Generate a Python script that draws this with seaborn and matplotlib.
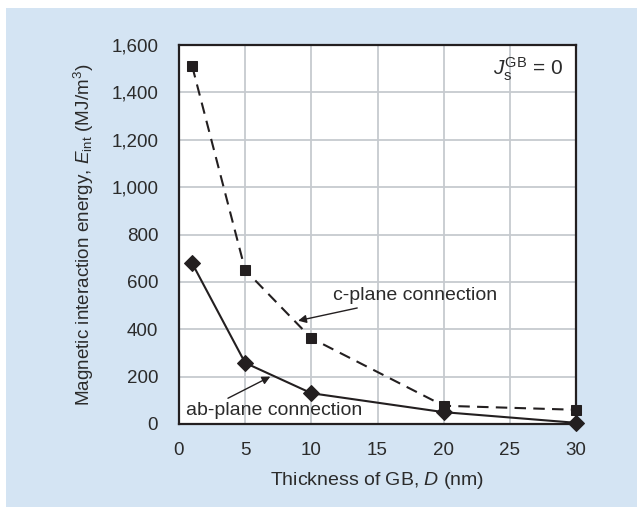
import matplotlib
matplotlib.use("Agg")
import matplotlib.pyplot as plt
import seaborn as sns
import pandas as pd
from matplotlib.ticker import FuncFormatter
from matplotlib.patches import Rectangle

thickness = [1, 5, 10, 20, 30]
c_plane = [1510, 650, 362, 77, 60]
ab_plane = [678, 258, 130, 50, 5]
x_ticks = [0, 5, 10, 15, 20, 25, 30]
y_ticks = [0, 200, 400, 600, 800, 1000, 1200, 1400, 1600]

sns.set_theme(style="whitegrid")
plt.rcParams["font.family"] = ["Liberation Sans", "DejaVu Sans"]
plt.rcParams["mathtext.fontset"] = "custom"
plt.rcParams["mathtext.rm"] = "Liberation Sans"
plt.rcParams["mathtext.it"] = "Liberation Sans:italic"

BG = "#d4e4f3"
INK = "#231f20"
TXT = "#2b2b2b"

fig = plt.figure(figsize=(6.37, 5.07), dpi=100, facecolor="white")
fig.patches.append(Rectangle((6 / 637, 0), 1, 1 - 8 / 507, transform=fig.transFigure,
                             facecolor=BG, edgecolor="none", zorder=-10))
ax = fig.add_axes([179 / 637, 83 / 507, 397 / 637, 379 / 507])
ax.set_facecolor("white")

df = pd.DataFrame({"D": thickness, "c": c_plane, "ab": ab_plane})

sns.lineplot(data=df, x="D", y="c", ax=ax, color=INK, marker="s", markersize=7.5,
             markeredgecolor=INK, markerfacecolor=INK, linewidth=1.5,
             linestyle=(0, (5.5, 3.5)), zorder=3, clip_on=False)
sns.lineplot(data=df, x="D", y="ab", ax=ax, color=INK, marker="D", markersize=8.5,
             markeredgecolor=INK, markerfacecolor=INK, linewidth=1.5,
             linestyle="-", zorder=3, clip_on=False)

ax.set_xlim(0, 30)
ax.set_ylim(0, 1600)
ax.set_xticks(x_ticks)
ax.set_yticks(y_ticks)
ax.yaxis.set_major_formatter(FuncFormatter(lambda v, p: f"{int(v):,}"))
ax.grid(True, color="#c6cacf", linewidth=1.3)
ax.tick_params(axis="both", length=0, labelsize=13.5, colors=TXT)
ax.tick_params(axis="y", pad=15)
ax.tick_params(axis="x", pad=13)
for s in ax.spines.values():
    s.set_color(INK)
    s.set_linewidth(1.6)
    s.set_visible(True)
    s.set_zorder(2.5)

ax.set_xlabel(r"Thickness of GB, $\mathit{D}$ (nm)", fontsize=14, color=TXT, labelpad=8)
ax.set_ylabel(r"Magnetic interaction energy, $\mathit{E}_{\rm int}$ (MJ/m$^3$)",
              fontsize=13.6, color=TXT, labelpad=11)

ax.annotate("c-plane connection", xy=(9.0, 436), xytext=(11.6, 542),
            fontsize=14, color=TXT, va="center", ha="left",
            arrowprops=dict(arrowstyle="-|>", color=INK, lw=1.0,
                            mutation_scale=12, shrinkA=2, shrinkB=0))
ax.annotate("ab-plane connection", xy=(6.9, 200), xytext=(0.55, 59),
            fontsize=14, color=TXT, va="center", ha="left",
            arrowprops=dict(arrowstyle="-|>", color=INK, lw=1.0,
                            mutation_scale=12, shrinkA=0, shrinkB=0,
                            relpos=(0.2, 1.0)))
ax.text(29.0, 1499, r"$\mathit{J}_{\rm s}^{\rm GB}$ = 0", fontsize=15, color=TXT,
        ha="right", va="center")

fig.savefig("out.png", dpi=100, facecolor="white")
